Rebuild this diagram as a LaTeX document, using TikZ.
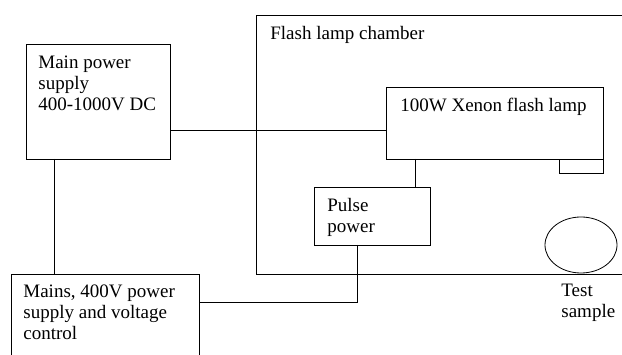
\documentclass[tikz,border=0pt]{standalone}
\usepackage{fontspec}
\setmainfont{Liberation Serif}
\usetikzlibrary{shapes.geometric}

\begin{document}
\begin{tikzpicture}[x=1pt,y=-1pt,line width=0.8pt,
    font=\fontsize{19}{21}\selectfont,
    unit/.style args={#1 by #2}{draw,anchor=north west,outer sep=0pt,
        inner sep=0pt,minimum width=#1,minimum height=#2},
    caption/.style={anchor=base west,align=left,inner sep=0pt},
    wire/.style={draw}]
    \useasboundingbox (0,0) rectangle (622,355);
    % boxes
    \node[unit=144 by 115] (mps) at (26,44) {};
    \node[unit=188 by 100] (mains) at (11,274) {};
    \node[unit=217 by 72] (lamp) at (386,87) {};
    \node[unit=44 by 14,anchor=north east] (foot) at (lamp.south east) {};
    \node[unit=116 by 58] (pulse) at (314,187) {};
    \node[draw,ellipse,inner sep=0pt,minimum width=72,minimum height=56] (sample) at (581,245) {};
    % chamber, open to the right
    \coordinate (ctl) at (256,15);
    \coordinate (cbl) at (256,274);
    \draw (ctl -| 0,0) ++(630,0) -- (ctl) -- (cbl) -- ++(374,0);
    % texts (base = last line)
    \node[caption] (tmps) at ([shift={(12,66.5)}]mps.north west)
        {Main power\\supply\\400-1000V DC};
    \node[caption] (tmains) at ([shift={(12,66)}]mains.north west)
        {Mains, 400V power\\supply and voltage\\control};
    \node[caption] (tlamp) at ([shift={(14,24.5)}]lamp.north west) {100W Xenon flash lamp};
    \node[caption] (tpulse) at ([shift={(13,45.5)}]pulse.north west) {Pulse\\power};
    \node[caption] (tchamber) at ([shift={(14,24.5)}]ctl) {Flash lamp chamber};
    \node[caption] (tsample) at (561,318) {Test\\sample};
    % wiring
    \draw[wire] ([yshift=-28.5pt]mps.east) -- ([yshift=-28.5pt]mps.east -| lamp.west);
    \draw[wire] ([xshift=28pt]mps.south west) -- ([xshift=28pt]mps.south west |- mains.north);
    \draw[wire] ([xshift=29pt]lamp.south west) -- ([xshift=29pt]lamp.south west |- pulse.north);
    \draw[wire] ([xshift=43.5pt]pulse.south west) |- ([yshift=-28pt]mains.north east);
\end{tikzpicture}
\end{document}
